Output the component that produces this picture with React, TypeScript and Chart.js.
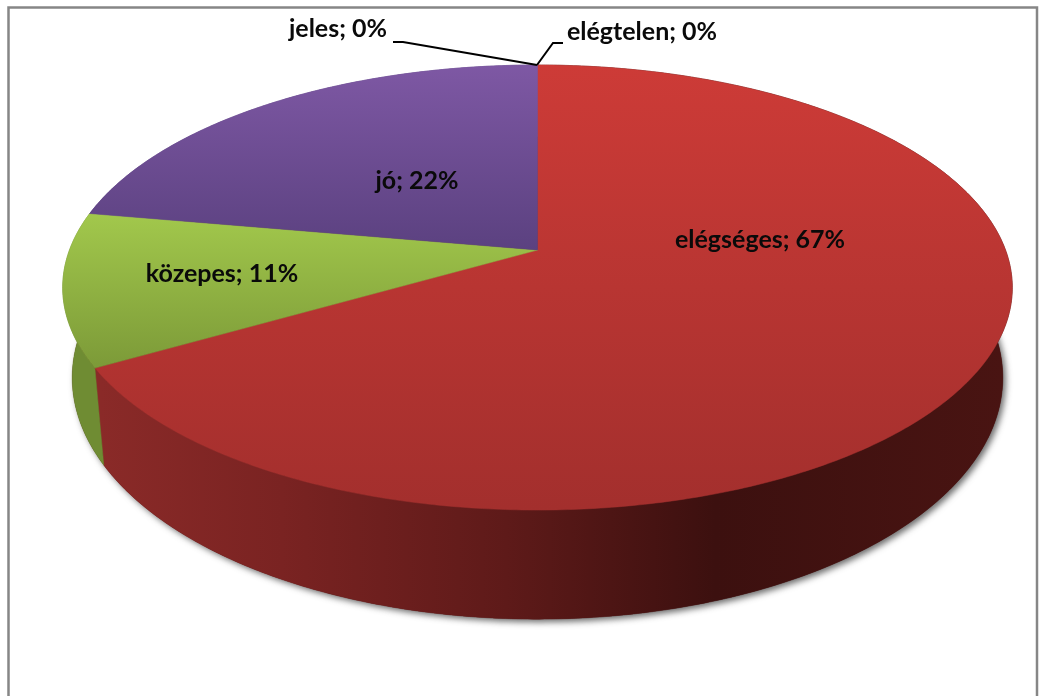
import React, { useEffect, useRef } from "react";
import { Chart, registerables } from "chart.js";

Chart.register(...registerables);

const categories = ["elégtelen", "elégséges", "közepes", "jó", "jeles"];
const shares = [0, 6, 1, 2, 0];

const topStops = [
  ["#888888", "#888888"],
  ["#cd3b37", "#a32f2d"],
  ["#a2c84c", "#7c9a38"],
  ["#7e58a4", "#5b4180"],
  ["#888888", "#888888"],
];
const wallColors = ["#000", "", "#6f8c33", "#5b4180", "#000"];
const labelCentres = [
  [642, 32],
  [760, 240],
  [222, 274],
  [417, 181],
  [338, 29],
];
const leaders = [
  [[563, 43], [553, 43], [537, 65]],
  null,
  null,
  null,
  [[393, 42], [403, 42], [537, 65]],
];

const CX = 537.5, CY = 250, A = 468, B = 216.2, K = 0.1686;
const project = (angle: number) => {
  const u = Math.cos(angle), v = Math.sin(angle), w = 1 - K * v;
  return [CX + (A * u) / w, CY + (B * v) / w];
};
const lower = (p: number[]) => [CX + (p[0] - CX) * 0.98, 337 + (p[1] - CY) * 1.085];

const trace = (ctx: CanvasRenderingContext2D, from: number, to: number, map = (p: number[]) => p, move = false) => {
  const n = Math.max(2, Math.ceil(Math.abs(to - from) / 0.01));
  for (let i = 0; i <= n; i++) {
    const p = map(project(from + ((to - from) * i) / n));
    if (i === 0 && move) ctx.moveTo(p[0], p[1]);
    else ctx.lineTo(p[0], p[1]);
  }
};

const pie3d = {
  id: "pie3d",
  beforeDatasetsDraw(chart: any) {
    const ctx: CanvasRenderingContext2D = chart.ctx;
    const arcs = chart.getDatasetMeta(0).data;

    ctx.save();
    ctx.strokeStyle = "#868686";
    ctx.lineWidth = 2.5;
    ctx.beginPath();
    ctx.moveTo(8.5, 700);
    ctx.lineTo(8.5, 7.5);
    ctx.lineTo(1037, 7.5);
    ctx.lineTo(1037, 700);
    ctx.stroke();

    // base + soft shadow
    ctx.save();
    ctx.shadowColor = "rgba(60,60,60,0.75)";
    ctx.shadowBlur = 6;
    ctx.shadowOffsetX = 3;
    ctx.shadowOffsetY = 3;
    ctx.fillStyle = "#4a1412";
    ctx.beginPath();
    trace(ctx, 0, Math.PI * 2, lower, true);
    ctx.closePath();
    ctx.fill();
    ctx.restore();

    const wallRed = ctx.createLinearGradient(100, 0, 1005, 0);
    wallRed.addColorStop(0, "#8a2a28");
    wallRed.addColorStop(0.2, "#7a2322");
    wallRed.addColorStop(0.45, "#5e1a19");
    wallRed.addColorStop(0.68, "#3c100f");
    wallRed.addColorStop(1, "#491412");

    // side wall
    arcs.forEach((arc: any, i: number) => {
      if (arc.endAngle - arc.startAngle < 1e-6) return;
      ctx.fillStyle = wallColors[i] || wallRed;
      ctx.strokeStyle = ctx.fillStyle;
      ctx.lineWidth = 0.5;
      ctx.beginPath();
      trace(ctx, arc.startAngle, arc.endAngle, (p) => p, true);
      trace(ctx, arc.endAngle, arc.startAngle, lower);
      ctx.closePath();
      ctx.fill();
      ctx.stroke();
    });

    // upper face
    arcs.forEach((arc: any, i: number) => {
      if (arc.endAngle - arc.startAngle < 1e-6) return;
      let y0 = Infinity, y1 = -Infinity;
      for (let t = 0; t <= 100; t++) {
        const p = project(arc.startAngle + ((arc.endAngle - arc.startAngle) * t) / 100);
        y0 = Math.min(y0, p[1]);
        y1 = Math.max(y1, p[1]);
      }
      y0 = Math.min(y0, CY);
      y1 = Math.max(y1, CY);
      const g = ctx.createLinearGradient(0, y0, 0, y1);
      g.addColorStop(0, topStops[i][0]);
      g.addColorStop(1, topStops[i][1]);
      ctx.fillStyle = g;
      ctx.strokeStyle = g;
      ctx.lineWidth = 0.5;
      ctx.beginPath();
      ctx.moveTo(CX, CY);
      trace(ctx, arc.startAngle, arc.endAngle);
      ctx.closePath();
      ctx.fill();
      ctx.stroke();
    });

    // leaders
    ctx.strokeStyle = "#000";
    ctx.lineWidth = 2;
    leaders.forEach((pts) => {
      if (!pts) return;
      ctx.beginPath();
      pts.forEach((p, j) => (j ? ctx.lineTo(p[0], p[1]) : ctx.moveTo(p[0], p[1])));
      ctx.stroke();
    });

    // labels
    const total = shares.reduce((a, b) => a + b, 0);
    ctx.fillStyle = "#0a0a0a";
    ctx.font = 'bold 25px Lato, "Open Sans", sans-serif';
    ctx.textAlign = "center";
    ctx.textBaseline = "middle";
    categories.forEach((c, i) => {
      ctx.fillText(`${c}; ${Math.round((shares[i] / total) * 100)}%`, labelCentres[i][0], labelCentres[i][1]);
    });
    ctx.restore();
    return false;
  },
};

export default function App() {
  const ref = useRef<HTMLCanvasElement>(null);
  useEffect(() => {
    const chart = new Chart(ref.current!, {
      type: "pie",
      data: { labels: categories, datasets: [{ data: shares, borderWidth: 0 }] },
      options: {
        animation: false,
        responsive: false,
        plugins: { legend: { display: false }, tooltip: { enabled: false } },
      },
      plugins: [pie3d],
    } as any);
    return () => chart.destroy();
  }, []);
  return (
    <canvas
      ref={ref}
      width={1046}
      height={696}
      style={{ position: "absolute", left: 0, top: 0, display: "block", background: "#fff" }}
    />
  );
}
